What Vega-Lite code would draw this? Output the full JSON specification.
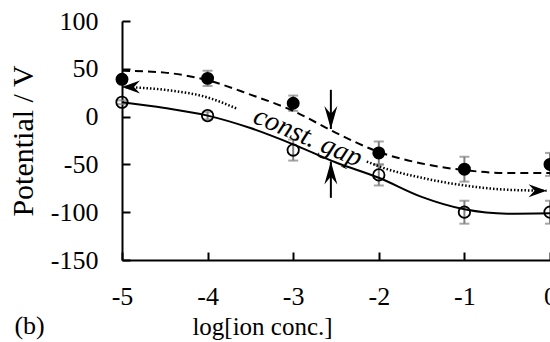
{
  "$schema": "https://vega.github.io/schema/vega-lite/v6.json",
  "autosize": "none",
  "width": 428,
  "height": 239,
  "padding": {"left": 122, "top": 21, "right": 0, "bottom": 82},
  "background": "white",
  "config": {
    "view": {"stroke": null},
    "font": "Liberation Serif",
    "axis": {
      "grid": false,
      "domainColor": "black",
      "domainWidth": 2,
      "tickColor": "black",
      "tickWidth": 2,
      "tickSize": -8,
      "labelFont": "Liberation Serif",
      "labelFontSize": 26,
      "labelColor": "black",
      "labelFlush": false,
      "labelOverlap": false,
      "titleFont": "Liberation Serif",
      "titleFontSize": 26,
      "titleFontWeight": "normal",
      "titleColor": "black"
    }
  },
  "datasets": {
    "points": [
      {"x": -5, "y": 39, "err": 3, "series": "filled"},
      {"x": -4, "y": 40, "err": 8, "series": "filled"},
      {"x": -3, "y": 14, "err": 8, "series": "filled"},
      {"x": -2, "y": -38, "err": 12, "series": "filled"},
      {"x": -1, "y": -55, "err": 13, "series": "filled"},
      {"x": 0, "y": -50, "err": 12, "series": "filled"},
      {"x": -5, "y": 15, "err": 2, "series": "open"},
      {"x": -4, "y": 1, "err": 4, "series": "open"},
      {"x": -3, "y": -35, "err": 11, "series": "open"},
      {"x": -2, "y": -61, "err": 11, "series": "open"},
      {"x": -1, "y": -100, "err": 12, "series": "open"},
      {"x": 0, "y": -100, "err": 12, "series": "open"}
    ],
    "curves": [
      {"x": -5, "y": 48, "curve": "dashed"},
      {"x": -4.5, "y": 46, "curve": "dashed"},
      {"x": -4, "y": 38, "curve": "dashed"},
      {"x": -3.5, "y": 23, "curve": "dashed"},
      {"x": -3, "y": 6, "curve": "dashed"},
      {"x": -2.5, "y": -17, "curve": "dashed"},
      {"x": -2, "y": -37, "curve": "dashed"},
      {"x": -1.5, "y": -49, "curve": "dashed"},
      {"x": -1, "y": -56, "curve": "dashed"},
      {"x": -0.5, "y": -59, "curve": "dashed"},
      {"x": 0, "y": -59, "curve": "dashed"},
      {"x": -5, "y": 15, "curve": "solid"},
      {"x": -4.5, "y": 9, "curve": "solid"},
      {"x": -4, "y": 1, "curve": "solid"},
      {"x": -3.5, "y": -12, "curve": "solid"},
      {"x": -3, "y": -29, "curve": "solid"},
      {"x": -2.5, "y": -48, "curve": "solid"},
      {"x": -2, "y": -64, "curve": "solid"},
      {"x": -1.5, "y": -84, "curve": "solid"},
      {"x": -1, "y": -97, "curve": "solid"},
      {"x": -0.5, "y": -101.5, "curve": "solid"},
      {"x": 0, "y": -101, "curve": "solid"}
    ],
    "dotted": [
      {"x": -5, "y": 31, "seg": 1},
      {"x": -4.5, "y": 28, "seg": 1},
      {"x": -4, "y": 20, "seg": 1},
      {"x": -3.65, "y": 8, "seg": 1},
      {"x": -2.14, "y": -47, "seg": 2},
      {"x": -2, "y": -52, "seg": 2},
      {"x": -1.5, "y": -64, "seg": 2},
      {"x": -1, "y": -72, "seg": 2},
      {"x": -0.5, "y": -76.5, "seg": 2},
      {"x": -0.04, "y": -77.5, "seg": 2}
    ],
    "arrows": [
      {"x": -5, "y": 31, "dir": "left"},
      {"x": -0.04, "y": -77.5, "dir": "right"},
      {"x": -2.56, "y": -13, "dir": "down"},
      {"x": -2.56, "y": -47, "dir": "up"}
    ],
    "stems": [
      {"x": -2.56, "y": 28, "y2": -13},
      {"x": -2.56, "y": -47, "y2": -85}
    ],
    "labels": [
      {"x": -2.83, "y": -21.7, "text": "const. gap"}
    ],
    "panel": [
      {"x": -6.08, "y": -219, "text": "(b)"}
    ]
  },
  "layer": [
    {
      "data": {"name": "points"},
      "mark": {"type": "errorbar", "ticks": {"size": 10, "thickness": 2, "color": "#808080"}, "color": "#808080", "thickness": 2},
      "encoding": {
        "x": {"field": "x", "type": "quantitative", "scale": {"domain": [-5, 0], "nice": false, "zero": false},
          "axis": {"values": [-5, -4, -3, -2, -1, 0], "labelExpr": "datum.value + ''", "labelFont": "Liberation Serif", "labelFontSize": 26, "title": "log[ion conc.]", "titleFont": "Liberation Serif", "titleFontSize": 25, "labelPadding": 31, "titleX": 140, "titleY": 74, "titleBaseline": "alphabetic", "titleAlign": "center", "titleAnchor": null}},
        "y": {"field": "y", "type": "quantitative", "scale": {"domain": [-150, 100], "nice": false, "zero": false},
          "axis": {"values": [-150, -100, -50, 0, 50, 100], "labelExpr": "datum.value + ''", "labelFont": "Liberation Serif", "labelFontSize": 26, "title": "Potential / V", "titleFont": "Liberation Serif", "titleFontSize": 30, "labelPadding": 32, "titleX": -99, "titleY": 119.5, "titleAngle": -90, "titleBaseline": "middle", "titleAlign": "center", "titleAnchor": null}},
        "yError": {"field": "err"}
      }
    },
    {
      "data": {"name": "curves"},
      "transform": [{"filter": "datum.curve === 'dashed'"}],
      "mark": {"type": "line", "interpolate": "monotone", "color": "black", "strokeWidth": 2, "strokeDash": [8, 5]},
      "encoding": {"x": {"field": "x", "type": "quantitative"}, "y": {"field": "y", "type": "quantitative"}}
    },
    {
      "data": {"name": "curves"},
      "transform": [{"filter": "datum.curve === 'solid'"}],
      "mark": {"type": "line", "interpolate": "monotone", "color": "black", "strokeWidth": 2},
      "encoding": {"x": {"field": "x", "type": "quantitative"}, "y": {"field": "y", "type": "quantitative"}}
    },
    {
      "data": {"name": "dotted"},
      "mark": {"type": "line", "interpolate": "monotone", "color": "black", "strokeWidth": 2.5, "strokeDash": [1.5, 2]},
      "encoding": {"x": {"field": "x", "type": "quantitative"}, "y": {"field": "y", "type": "quantitative"}, "detail": {"field": "seg"}}
    },
    {
      "data": {"name": "stems"},
      "mark": {"type": "rule", "color": "black", "strokeWidth": 2},
      "encoding": {"x": {"field": "x", "type": "quantitative"}, "y": {"field": "y", "type": "quantitative"}, "y2": {"field": "y2"}}
    },
    {
      "data": {"name": "arrows"},
      "mark": {"type": "point", "filled": true, "color": "black", "size": 4, "opacity": 1, "strokeWidth": 0},
      "encoding": {
        "x": {"field": "x", "type": "quantitative"},
        "y": {"field": "y", "type": "quantitative"},
        "shape": {"field": "dir", "type": "nominal", "legend": null,
          "scale": {"domain": ["left", "right", "down", "up"],
            "range": ["M0,0 L18,-6.5 L12,0 L18,6.5 Z", "M0,0 L-18,-6.5 L-12,0 L-18,6.5 Z", "M0,0 L-6.5,-23 L0,-15 L6.5,-23 Z", "M0,0 L-6.5,23 L0,15 L6.5,23 Z"]}}
      }
    },
    {
      "data": {"name": "points"},
      "transform": [{"filter": "datum.series === 'filled'"}],
      "mark": {"type": "point", "shape": "circle", "filled": true, "color": "black", "size": 168, "opacity": 1},
      "encoding": {"x": {"field": "x", "type": "quantitative"}, "y": {"field": "y", "type": "quantitative"}}
    },
    {
      "data": {"name": "points"},
      "transform": [{"filter": "datum.series === 'open'"}],
      "mark": {"type": "point", "shape": "circle", "filled": false, "color": "black", "size": 130, "strokeWidth": 1.8, "opacity": 1},
      "encoding": {"x": {"field": "x", "type": "quantitative"}, "y": {"field": "y", "type": "quantitative"}}
    },
    {
      "data": {"name": "labels"},
      "mark": {"type": "text", "font": "Liberation Serif", "fontStyle": "italic", "fontSize": 28, "angle": 23, "align": "center", "baseline": "middle", "color": "black"},
      "encoding": {"x": {"field": "x", "type": "quantitative"}, "y": {"field": "y", "type": "quantitative"}, "text": {"field": "text"}}
    },
    {
      "data": {"name": "panel"},
      "mark": {"type": "text", "font": "Liberation Serif", "fontSize": 26, "align": "center", "baseline": "middle", "color": "black"},
      "encoding": {"x": {"field": "x", "type": "quantitative"}, "y": {"field": "y", "type": "quantitative"}, "text": {"field": "text"}}
    },
    {
      "mark": {"type": "rule", "color": "black", "strokeWidth": 2},
      "encoding": {"y": {"datum": 100}}
    }
  ]
}
